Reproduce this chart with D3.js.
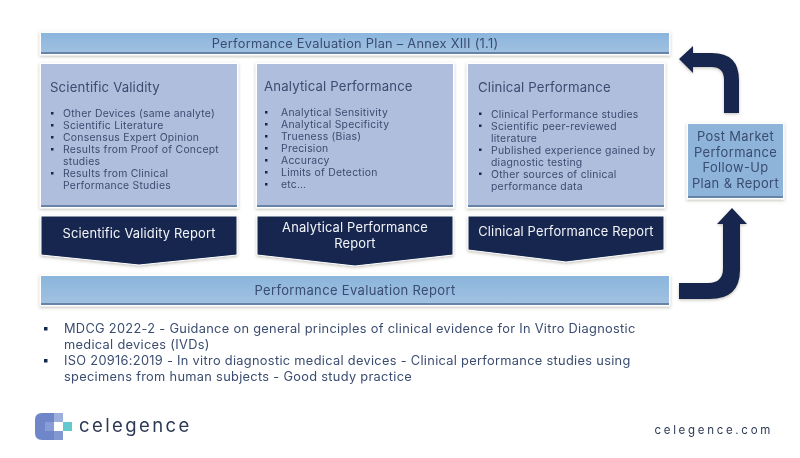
<!DOCTYPE html>
<html>
<head>
<meta charset="utf-8">
<script src="https://cdnjs.cloudflare.com/ajax/libs/d3/7.8.5/d3.min.js"></script>
<style>
  html, body { margin: 0; padding: 0; background: #fff; }
  svg { display: block; font-family: Inter, "DejaVu Sans", sans-serif; filter: blur(0.35px); }
</style>
</head>
<body>
<svg id="chart"></svg>
<script>
var topTitle = "Performance Evaluation Plan \u2013 Annex XIII (1.1)";
var bottomTitle = "Performance Evaluation Report";
var columns = ["Scientific Validity", "Analytical Performance", "Clinical Performance"];
var scientificItems = [["Other Devices (same analyte)"], ["Scientific Literature"], ["Consensus Expert Opinion"],
    ["Results from Proof of Concept", "studies"], ["Results from Clinical", "Performance Studies"]];
var analyticalItems = [["Analytical Sensitivity"], ["Analytical Specificity"], ["Trueness (Bias)"], ["Precision"],
    ["Accuracy"], ["Limits of Detection"], ["etc\u2026"]];
var clinicalItems = [["Clinical Performance studies"], ["Scientific peer-reviewed", "literature"],
    ["Published experience gained by", "diagnostic testing"], ["Other sources of clinical", "performance data"]];
var reports = [["Scientific Validity Report"], ["Analytical Performance", "Report"], ["Clinical Performance Report"]];
var sideBox = ["Post Market", "Performance", "Follow-Up", "Plan & Report"];
var references = [
    ["MDCG 2022-2 - Guidance on general principles of clinical evidence for In Vitro Diagnostic", "medical devices (IVDs)"],
    ["ISO 20916:2019 - In vitro diagnostic medical devices - Clinical performance studies using", "specimens from human subjects - Good study practice"]
];

var width = 800, height = 458;
var navy = "#14284f", ink = "#3a4c70";

var svg = d3.select("#chart").attr("width", width).attr("height", height);
var defs = svg.append("defs");

var shadow = defs.append("filter").attr("id", "shadow")
    .attr("x", "-10%").attr("y", "-20%").attr("width", "120%").attr("height", "140%");
shadow.append("feDropShadow").attr("dx", 0).attr("dy", 1.2).attr("stdDeviation", 1.8)
    .attr("flood-color", "#8a8578").attr("flood-opacity", 0.5);

var barGrad = defs.append("linearGradient").attr("id", "bar").attr("x1", 0).attr("x2", 0).attr("y1", 0).attr("y2", 1);
barGrad.append("stop").attr("offset", "0%").attr("stop-color", "#8bb5dc");
barGrad.append("stop").attr("offset", "100%").attr("stop-color", "#a2c2e1");

// column positions
var colX = d3.scaleOrdinal().domain([0, 1, 2]).range([41, 257, 468]);
var cardW = 196;

function bar(x, y, w, h, fill) {
    var g = svg.append("g").attr("filter", "url(#shadow)");
    g.append("rect").attr("x", x).attr("y", y).attr("width", w).attr("height", h).attr("fill", "#fff")
        .attr("stroke", "#fff").attr("stroke-width", 3);
    g.append("rect").attr("x", x).attr("y", y).attr("width", w).attr("height", h).attr("fill", fill);
    g.append("rect").attr("x", x).attr("y", y + h - 2).attr("width", w).attr("height", 2).attr("fill", "#6683a8");
}

function lines(parent, arr, cx, y0, step, size, spacing) {
    parent.append("text")
        .attr("text-anchor", "middle")
        .attr("fill", ink)
        .attr("font-size", size)
        .attr("letter-spacing", spacing)
        .selectAll("tspan").data(arr).join("tspan")
        .attr("x", cx)
        .attr("y", function(d, i) { return y0 + i * step; })
        .text(function(d) { return d; });
}

// top and bottom bars
bar(41, 33, 628, 21, "url(#bar)");
lines(svg, [topTitle], 355, 47.5, 0, 12.8, 0.27);
bar(41, 276, 628, 29, "url(#bar)");
lines(svg, [bottomTitle], 355, 295, 0, 13, 0.34);

// cards
var lineY = d3.scaleLinear().domain([0, 6]).range([0, 72]);
var itemSets = [scientificItems, analyticalItems, clinicalItems];
var titleY = [92, 91, 92];
var titleX = [50, 264, 478];
var bulletX = [51, 265, 479];
var textX = [63, 281, 491];
var firstLineY = [117, 116, 117.5];

columns.forEach(function(name, c) {
    var x = colX(c);
    bar(x, 64, cardW, 143, "#b0bedd");
    svg.append("text").attr("x", titleX[c]).attr("y", titleY[c])
        .attr("fill", ink).attr("font-size", 13.2).attr("letter-spacing", 0.15).text(name);

    var row = 0;
    itemSets[c].forEach(function(item) {
        svg.append("rect").attr("x", bulletX[c]).attr("y", firstLineY[c] + lineY(row) - 5)
            .attr("width", 2.5).attr("height", 2.5).attr("fill", navy);
        item.forEach(function(t) {
            svg.append("text").attr("x", textX[c]).attr("y", firstLineY[c] + lineY(row))
                .attr("fill", ink).attr("font-size", 10.4).attr("letter-spacing", 0.25).text(t);
            row += 1;
        });
    });
});

// navy report shapes
var reportPath = d3.line();
var reportBottom = [255, 255, 250];
var reportTip = [265, 266, 262];
var reportTextY = [[238], [232, 248], [236]];
reports.forEach(function(r, c) {
    var x = colX(c);
    var pts = [[x, 216], [x + cardW, 216], [x + cardW, reportBottom[c]], [x + cardW / 2, reportTip[c]], [x, reportBottom[c]]];
    svg.append("path").attr("d", reportPath(pts) + "Z").attr("fill", navy)
        .attr("stroke", "#fff").attr("stroke-width", 1).attr("filter", "url(#shadow)");
    r.forEach(function(t, i) {
        svg.append("text").attr("x", x + cardW / 2).attr("y", reportTextY[c][i])
            .attr("text-anchor", "middle").attr("fill", "#f2f4f8").attr("font-size", 12.9)
            .attr("letter-spacing", 0.17).text(t);
    });
});

// side box
bar(688, 124, 95, 74, "#8fb4da");
lines(svg, sideBox, 735.5, 141, 15.6, 12.9, 0.38);

// arrows
var upper = d3.path();
upper.moveTo(739, 113); upper.lineTo(724, 113); upper.lineTo(724, 80);
upper.quadraticCurveTo(724, 67, 711, 67); upper.lineTo(693, 67); upper.lineTo(693, 73);
upper.lineTo(679, 59); upper.lineTo(693, 46); upper.lineTo(693, 53); upper.lineTo(712, 53);
upper.quadraticCurveTo(739, 53, 739, 80); upper.closePath();
svg.append("path").attr("d", upper.toString()).attr("fill", navy).attr("filter", "url(#shadow)");

var lower = d3.path();
lower.moveTo(679, 283); lower.lineTo(708, 283); lower.quadraticCurveTo(723, 283, 723, 268);
lower.lineTo(723, 224); lower.lineTo(717, 224); lower.lineTo(732, 208); lower.lineTo(747, 224);
lower.lineTo(740, 224); lower.lineTo(740, 270); lower.quadraticCurveTo(740, 299, 710, 299);
lower.lineTo(679, 299); lower.closePath();
svg.append("path").attr("d", lower.toString()).attr("fill", navy).attr("filter", "url(#shadow)");

// reference list
var refY = d3.scaleLinear().domain([0, 3]).range([333, 381]);
var refRow = 0;
references.forEach(function(item) {
    svg.append("rect").attr("x", 44).attr("y", refY(refRow) - 6)
        .attr("width", 3.5).attr("height", 3.5).attr("fill", navy);
    item.forEach(function(t) {
        svg.append("text").attr("x", 64).attr("y", refY(refRow))
            .attr("fill", ink).attr("font-size", 12.8).attr("letter-spacing", 0.31).text(t);
        refRow += 1;
    });
});

// logo
var logo = svg.append("g");
logo.append("path").attr("fill", "#6f86c8")
    .attr("d", "M42 413H54V440H42Q35 440 35 433V420Q35 413 42 413Z");
logo.append("rect").attr("x", 54).attr("y", 413).attr("width", 9).attr("height", 9).attr("fill", "#9db0dd");
logo.append("rect").attr("x", 54).attr("y", 431).attr("width", 9).attr("height", 9).attr("fill", "#8398d3");
logo.append("rect").attr("x", 45).attr("y", 422).attr("width", 9).attr("height", 9).attr("fill", "#8a9cd6");
logo.append("rect").attr("x", 54).attr("y", 422).attr("width", 9).attr("height", 9).attr("fill", "#ffffff");
logo.append("rect").attr("x", 63).attr("y", 422).attr("width", 9).attr("height", 9).attr("fill", "#63c9cf");
svg.append("text").attr("x", 79).attr("y", 432).attr("fill", "#2d3a55")
    .attr("font-size", 18.5).attr("letter-spacing", 2.4).text("celegence");
svg.append("text").attr("x", 773).attr("y", 434).attr("text-anchor", "end").attr("fill", "#2d3a55")
    .attr("font-size", 11.5).attr("letter-spacing", 2.7).text("celegence.com");
</script>
</body>
</html>
